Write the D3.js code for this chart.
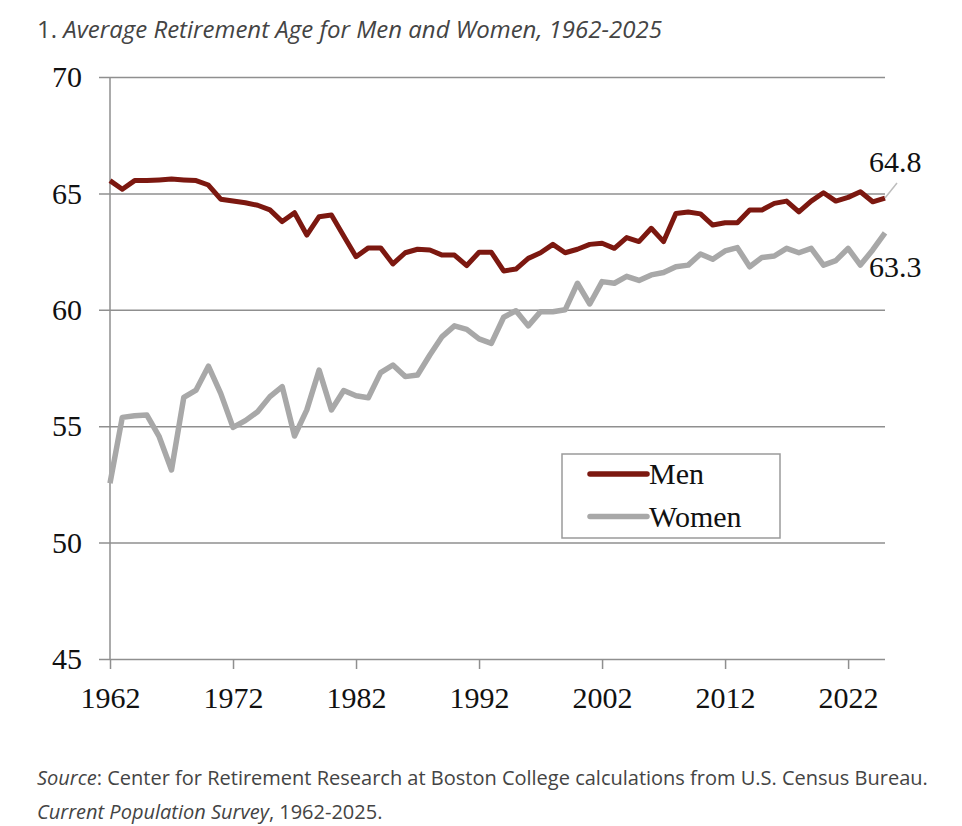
<!DOCTYPE html>
<html>
<head>
<meta charset="utf-8">
<script src="https://cdn.jsdelivr.net/npm/d3@7"></script>
<style>
  body { margin: 0; background: #fff; }
  svg text { font-family: "Liberation Serif", "Times New Roman", serif; }
  .note { font-family: "Open Sans", sans-serif !important; fill: #444; }
</style>
</head>
<body>
<div id="chart"></div>
<script>
// Average retirement age
const years = d3.range(1962, 2026)
const men = [
  65.55, 65.18, 65.55, 65.55, 65.58, 65.62, 65.58, 65.55, 65.36, 64.75,
  64.67, 64.60, 64.49, 64.29, 63.79, 64.17, 63.21, 64.00, 64.07, 63.17,
  62.28, 62.66, 62.66, 61.97, 62.45, 62.60, 62.57, 62.35, 62.35, 61.90,
  62.47, 62.47, 61.67, 61.75, 62.21, 62.45, 62.81, 62.45, 62.60, 62.81,
  62.86, 62.64, 63.10, 62.93, 63.50, 62.93, 64.14, 64.20, 64.12, 63.64,
  63.74, 63.74, 64.29, 64.29, 64.57, 64.67, 64.21, 64.67, 65.03, 64.67,
  64.83, 65.07, 64.64, 64.80
]
const women = [
  52.55, 55.38, 55.45, 55.48, 54.55, 53.12, 56.24, 56.55, 57.58, 56.41,
  54.95, 55.24, 55.62, 56.27, 56.70, 54.58, 55.70, 57.41, 55.70, 56.53,
  56.31, 56.22, 57.30, 57.63, 57.13, 57.20, 58.06, 58.85, 59.31, 59.16,
  58.75, 58.56, 59.68, 59.96, 59.31, 59.92, 59.92, 60.00, 61.14, 60.25,
  61.21, 61.14, 61.44, 61.26, 61.50, 61.60, 61.85, 61.92, 62.40, 62.17,
  62.53, 62.67, 61.85, 62.25, 62.31, 62.64, 62.45, 62.64, 61.92, 62.11,
  62.64, 61.92, 62.57, 63.30
]
const xTicks = [1962, 1972, 1982, 1992, 2002, 2012, 2022]
const yTicks = [45, 50, 55, 60, 65, 70]
const seriesNames = ["Men", "Women"]

const width = 962, height = 826
const svg = d3.select("#chart").append("svg")
    .attr("width", width)
    .attr("height", height)

// scales
const x = d3.scaleLinear().domain([1962, 2025]).range([110, 885])
const y = d3.scaleLinear().domain([45, 70]).range([659, 77])
const colours = { Men: "#7c1810", Women: "#a8a8a8" }

// title
const title = svg.append("text")
    .attr("class", "note")
    .attr("x", 37).attr("y", 38)
    .style("font-size", "24px")
title.append("tspan").text("1. ")
title.append("tspan").style("font-style", "italic")
    .text("Average Retirement Age for Men and Women, 1962-2025")

// horizontal gridlines + y labels
const gy = svg.append("g")
    .attr("transform", "translate(99,0)")
    .call(d3.axisLeft(y).tickValues(yTicks).tickSize(-(885 - 99)).tickPadding(17))
gy.select(".domain").remove()
gy.selectAll(".tick line").attr("stroke", "#8f8f8f").attr("stroke-width", 1.5)
gy.selectAll(".tick text")
    .style("font-size", "30px")
    .style("font-family", "Liberation Serif, serif")
    .attr("fill", "#111")

// x axis
const gx = svg.append("g")
    .attr("transform", "translate(0," + y(45) + ")")
    .call(d3.axisBottom(x).tickValues(xTicks).tickSize(10).tickPadding(18).tickFormat(d3.format("d")))
gx.select(".domain").remove()
gx.selectAll(".tick line").attr("stroke", "#8f8f8f").attr("stroke-width", 1.5)
gx.selectAll(".tick text")
    .style("font-size", "30px")
    .style("font-family", "Liberation Serif, serif")
    .attr("fill", "#111")

// vertical axis line
svg.append("line")
    .attr("x1", x(1962)).attr("x2", x(1962))
    .attr("y1", y(70)).attr("y2", y(45))
    .attr("stroke", "#8f8f8f").attr("stroke-width", 1.5)

// lines
const line = d3.line()
    .x((d, i) => x(years[i]))
    .y(d => y(d))

svg.append("path")
    .datum(women)
    .attr("d", line)
    .attr("fill", "none")
    .attr("stroke", colours.Women)
    .attr("stroke-width", 5.5)
    .attr("stroke-linejoin", "round")

svg.append("path")
    .datum(men)
    .attr("d", line)
    .attr("fill", "none")
    .attr("stroke", colours.Men)
    .attr("stroke-width", 5)
    .attr("stroke-linejoin", "round")

// end labels
const lastYear = years[years.length - 1]
const lastMen = men[men.length - 1]
const lastWomen = women[women.length - 1]
svg.append("line")
    .attr("x1", x(lastYear)).attr("y1", y(lastMen))
    .attr("x2", x(lastYear) + 12).attr("y2", y(lastMen) - 15)
    .attr("stroke", "#bdbdbd").attr("stroke-width", 1.5)
svg.append("text")
    .attr("x", x(lastYear) - 16).attr("y", y(lastMen) - 26)
    .style("font-size", "30px").attr("fill", "#111")
    .text(lastMen.toFixed(1))
svg.append("text")
    .attr("x", x(lastYear) - 16).attr("y", y(lastWomen) + 44)
    .style("font-size", "30px").attr("fill", "#111")
    .text(lastWomen.toFixed(1))

// legend
const legend = svg.append("g").attr("transform", "translate(562,454)")
legend.append("rect")
    .attr("width", 218).attr("height", 84)
    .attr("fill", "#fff").attr("stroke", "#9a9a9a").attr("stroke-width", 1.5)
seriesNames.forEach((name, i) => {
    const ly = 20 + i * 42.5
    legend.append("line")
        .attr("x1", 28).attr("x2", 85)
        .attr("y1", ly).attr("y2", ly)
        .attr("stroke", colours[name]).attr("stroke-width", 5.5)
        .attr("stroke-linecap", "round")
    legend.append("text")
        .attr("x", 87).attr("y", ly + 10)
        .style("font-size", "30px").attr("fill", "#111")
        .text(name)
})

// source note
const src = svg.append("text")
    .attr("class", "note")
    .attr("x", 37).attr("y", 785)
    .style("font-size", "20px")
src.append("tspan").style("font-style", "italic").text("Source")
src.append("tspan").text(": Center for Retirement Research at Boston College calculations from U.S. Census Bureau.")
const src2 = svg.append("text")
    .attr("class", "note")
    .attr("x", 37).attr("y", 819)
    .style("font-size", "20px")
src2.append("tspan").style("font-style", "italic").text("Current Population Survey")
src2.append("tspan").text(", 1962-2025.")
</script>
</body>
</html>
